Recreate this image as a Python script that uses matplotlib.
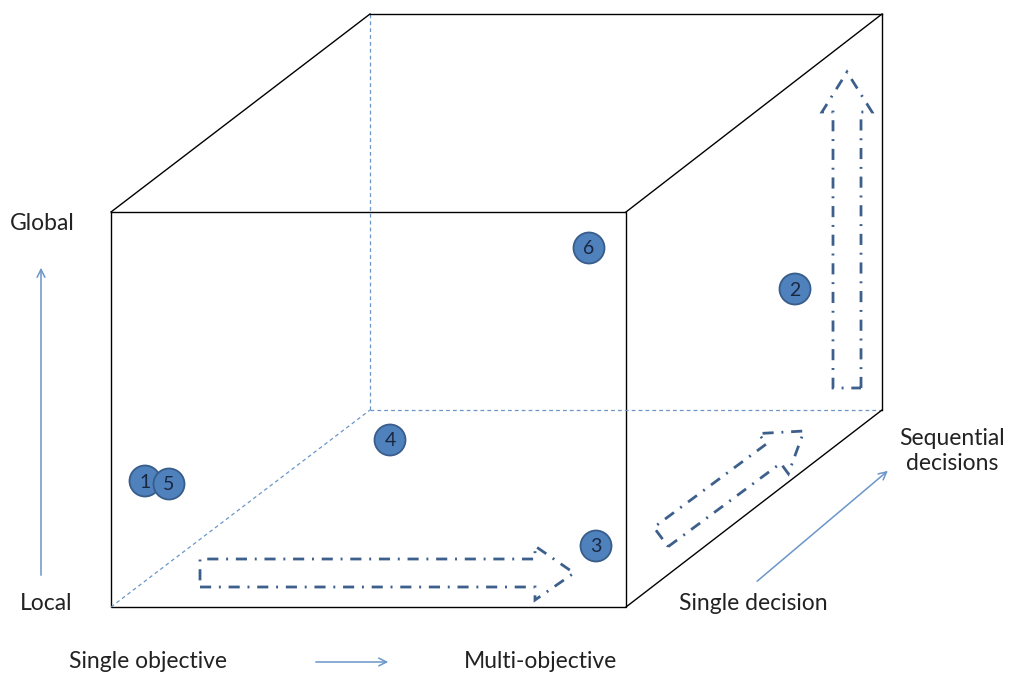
import numpy as np
from matplotlib import pyplot as plt
from matplotlib.patches import Circle, Polygon

# cube corners in picture pixels
FRONT = [(111, 212), (626, 212), (626, 607), (111, 607)]
BACK = [(370, 14), (882, 14), (882, 410), (370, 410)]

# numbered studies placed inside the cube
LABELS = ["1", "5", "4", "6", "2", "3"]
POS_X = [145, 169, 390, 589, 795, 596]
POS_Y = [481, 484, 440, 248, 289, 546]

# dash-dot block arrows: tail, tip, body half width, head half width, head length
ARROWS = [
    ((200, 573), (574, 573), 14, 27, 39),
    ((847, 388), (847, 72), 14, 25, 40),
    ((661, 537), (804, 431), 12, 25, 38),
]

FONT = "Lato"
LINE_BLUE = "#6a96c8"
ARROW_BLUE = "#3d5f8c"


def block_arrow(tail, tip, bw, hw, hl):
    t = np.array(tail, float)
    p = np.array(tip, float)
    d = (p - t) / np.linalg.norm(p - t)
    n = np.array([-d[1], d[0]])
    b = p - d * hl
    pts = [t + n * bw, b + n * bw, b + n * hw, p, b - n * hw, b - n * bw, t - n * bw]
    return np.array(pts)


fig = plt.figure(figsize=(10.09, 6.73), dpi=100)
ax = fig.add_axes([0, 0, 1, 1])
ax.set_xlim(0, 1009)
ax.set_ylim(673, 0)
ax.axis("off")

# hidden edges
hidden = [(BACK[0], BACK[3]), (BACK[3], BACK[2]), (FRONT[3], BACK[3])]
for a, b in hidden:
    ax.plot([a[0], b[0]], [a[1], b[1]], color=LINE_BLUE, lw=0.9, ls=(0, (3, 2.5)))

# visible edges
ax.add_patch(Polygon(FRONT, closed=True, fill=False, ec="black", lw=1.0))
visible = [(FRONT[0], BACK[0]), (BACK[0], BACK[1]), (FRONT[1], BACK[1]),
           (BACK[1], BACK[2]), (FRONT[2], BACK[2])]
for a, b in visible:
    ax.plot([a[0], b[0]], [a[1], b[1]], color="black", lw=1.0)

for tail, tip, bw, hw, hl in ARROWS:
    pts = block_arrow(tail, tip, bw, hw, hl)
    ax.add_patch(Polygon(pts, closed=True, fill=False, ec=ARROW_BLUE, lw=2.0,
                         ls=(0, (4, 2.8, 0.7, 2.8))))

for lab, x, y in zip(LABELS, POS_X, POS_Y):
    ax.add_patch(Circle((x, y), 15.5, fc="#4f81bd", ec="#385d8a", lw=1.3, zorder=5))
    ax.text(x, y + 1, lab, ha="center", va="center", fontsize=14,
            color="#1a2740", family=FONT, zorder=6)

# axis arrows
arrow_kw = dict(arrowstyle="->", color=LINE_BLUE, lw=1.1, mutation_scale=14)
ax.annotate("", xy=(41, 265), xytext=(41, 578), arrowprops=arrow_kw)
ax.annotate("", xy=(391, 662), xytext=(313, 662), arrowprops=arrow_kw)
ax.annotate("", xy=(890, 469), xytext=(755, 583), arrowprops=arrow_kw)

txt = dict(fontsize=16.5, color="#222222", family=FONT, va="center")
ax.text(42, 224, "Global", ha="center", **txt)
ax.text(46, 604, "Local", ha="center", **txt)
ax.text(148, 662, "Single objective", ha="center", **txt)
ax.text(541, 662, "Multi-objective", ha="center", **txt)
ax.text(753, 604, "Single decision", ha="center", **txt)
ax.text(952, 451, "Sequential\ndecisions", ha="center", linespacing=1.2, **txt)

plt.savefig("out.png", dpi=100)
